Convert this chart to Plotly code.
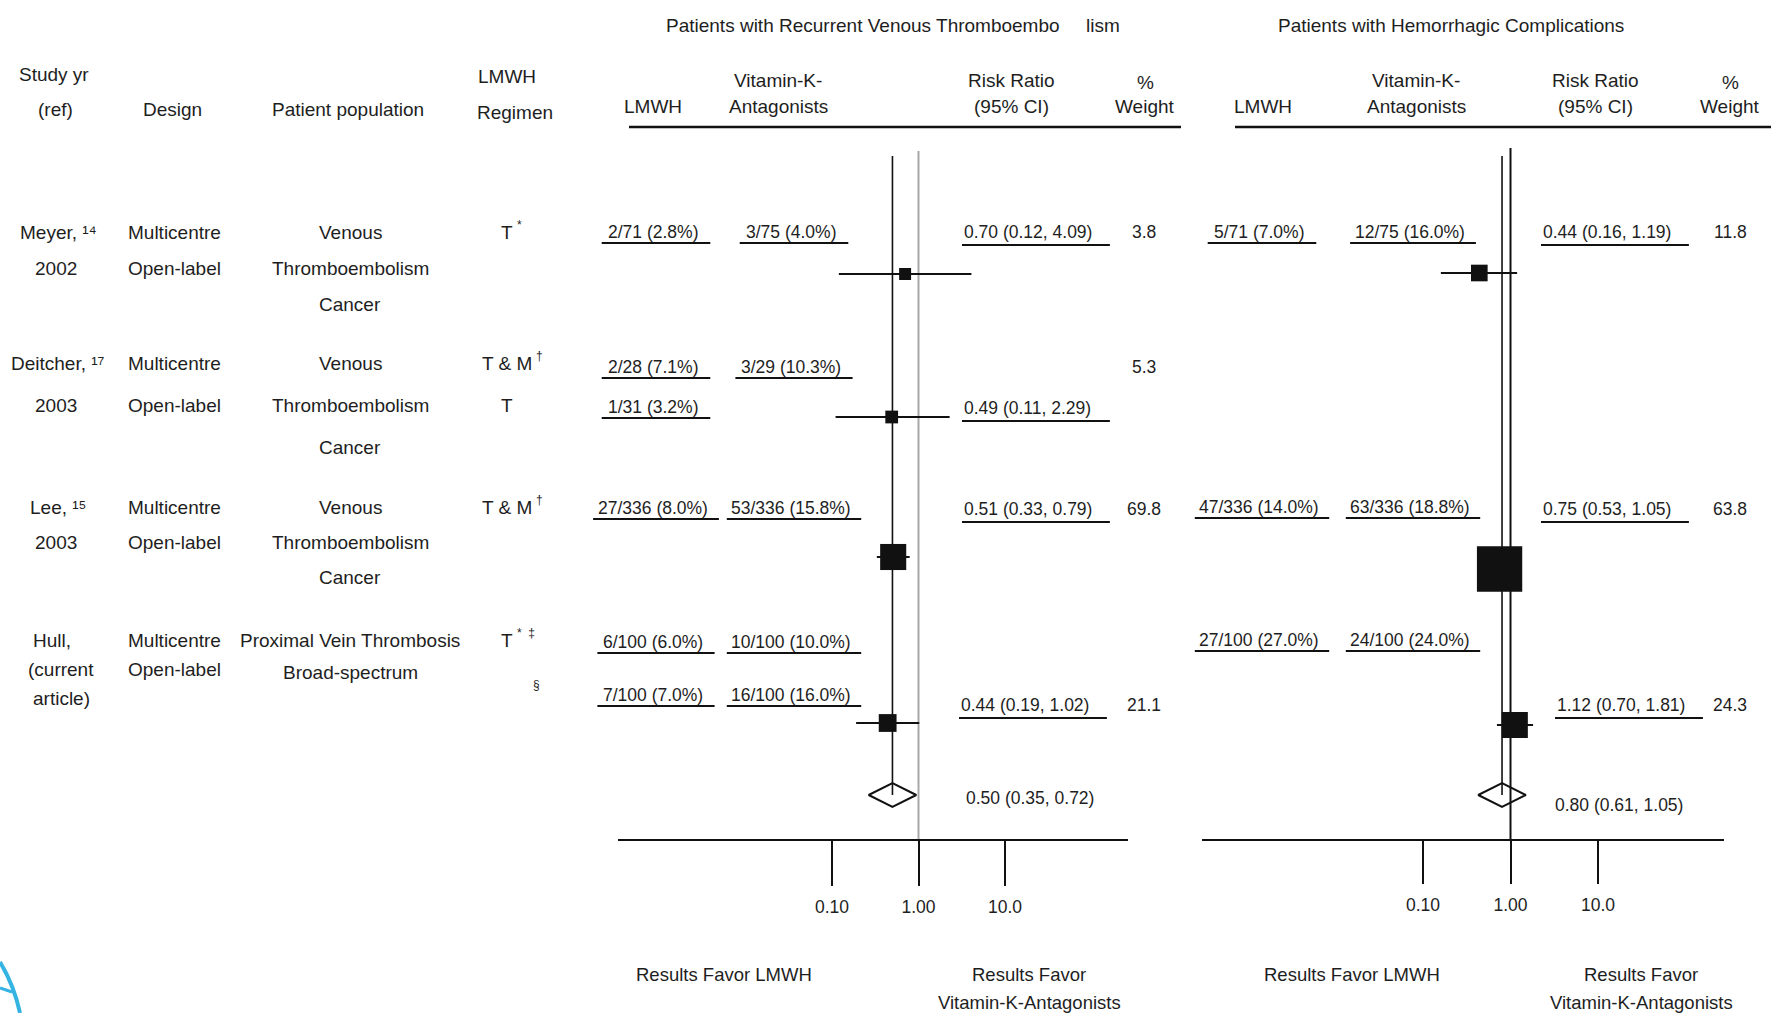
import plotly.graph_objects as go
import math

W, H = 1771, 1013
FONT = "Liberation Sans, Arial, sans-serif"
FS = 19      # words
FN = 17.5    # numbers
TC = "#1e1e1e"
LC = "#111111"

# ---------------- data ----------------
study_names = ["Meyer, ¹⁴", "Deitcher, ¹⁷", "Lee, ¹⁵", "Hull,"]
study_years = [["2002"], ["2003"], ["2003"], ["(current", "article)"]]
designs = [["Multicentre", "Open-label"]] * 4
populations = [["Venous", "Thromboembolism", "Cancer"],
               ["Venous", "Thromboembolism", "Cancer"],
               ["Venous", "Thromboembolism", "Cancer"],
               ["Proximal Vein Thrombosis", "Broad-spectrum"]]
# regimen text per line with footnote marks
regimens = [[("T", "*")], [("T & M", "†"), ("T", "")], [("T & M", "†")],
            [("T", "*  ‡"), ("", "§")]]

# Recurrent VTE
vte_lmwh = [["2/71 (2.8%)"], ["2/28 (7.1%)", "1/31 (3.2%)"], ["27/336 (8.0%)"], ["6/100 (6.0%)", "7/100 (7.0%)"]]
vte_vka = [["3/75 (4.0%)"], ["3/29 (10.3%)"], ["53/336 (15.8%)"], ["10/100 (10.0%)", "16/100 (16.0%)"]]
vte_rr = [0.70, 0.49, 0.51, 0.44]
vte_lo = [0.12, 0.11, 0.33, 0.19]
vte_hi = [4.09, 2.29, 0.79, 1.02]
vte_wt = [3.8, 5.3, 69.8, 21.1]
vte_pool = (0.50, 0.35, 0.72)

# Hemorrhagic complications (no Deitcher data)
hem_lmwh = [["5/71 (7.0%)"], [], ["47/336 (14.0%)"], ["27/100 (27.0%)"]]
hem_vka = [["12/75 (16.0%)"], [], ["63/336 (18.8%)"], ["24/100 (24.0%)"]]
hem_rr = [0.44, None, 0.75, 1.12]
hem_lo = [0.16, None, 0.53, 0.70]
hem_hi = [1.19, None, 1.05, 1.81]
hem_wt = [11.8, None, 63.8, 24.3]
hem_pool = (0.80, 0.61, 1.05)

tick_vals = [0.1, 1, 10]
tick_text = ["0.10", "1.00", "10.0"]

# ---------------- layout helpers (pixel positions) ----------------
def px(x):
    return x / W

def py(y):
    return 1 - y / H

ann = []
shp = []

def txt(x, y, s, anchor="center", size=FS):
    ann.append(dict(x=px(x), y=py(y), xref="paper", yref="paper", text=s, showarrow=False,
                    xanchor=anchor, yanchor="middle", font=dict(size=size, family=FONT, color=TC)))

def uline(x0, x1, y, w=2):
    shp.append(dict(type="line", xref="paper", yref="paper", x0=px(x0), x1=px(x1),
                    y0=py(y), y1=py(y), line=dict(color=LC, width=w)))

# row layout
row_top = [232, 363, 507, 640]
row_gap = [36, 42, 35, 29]

# ---------------- left descriptive table ----------------
txt(54, 75, "Study yr"); txt(55, 110, "(ref)")
txt(172, 110, "Design")
txt(348, 110, "Patient population")
txt(507, 77, "LMWH"); txt(515, 112, "Regimen")

for i in range(4):
    t, g = row_top[i], row_gap[i]
    txt(58 if i != 3 else 52, t, study_names[i])
    for k, s in enumerate(study_years[i]):
        txt(56 if i != 3 else 61, t + g * (k + 1), s)
    for k, s in enumerate(designs[i]):
        txt(174, t + g * k, s)
    for k, s in enumerate(populations[i]):
        txt(350, t + g * k + (3 if i == 3 and k else 0), s)
    for k, (main, mark) in enumerate(regimens[i]):
        yy = t + g * k + (23 if i == 3 and k else 0)
        if main:
            txt(507, yy, main)
        if mark:
            xm = 507 + 4.7 * len(main) + 3 if main else 531
            txt(xm, yy - 7, mark, anchor="left", size=12)

# ---------------- panel text ----------------
def panel_text(title, tx, hdr, cols, lmwh, vka, rr, lo, hi, wt, pool, cnt_y, rr_y, pool_xy,
               hdr_line, hull_shift):
    h_l, h_v, h_rr, h_w = hdr
    c_l, c_v, c_rr, c_w = cols
    txt(tx, 25, title)
    txt(h_l, 107, "LMWH")
    txt(h_v, 80, "Vitamin-K-"); txt(h_v, 107, "Antagonists")
    txt(h_rr, 80, "Risk Ratio"); txt(h_rr, 107, "(95% CI)")
    txt(h_w, 82, "%"); txt(h_w, 107, "Weight")
    uline(hdr_line[0], hdr_line[1], 127, 2.5)
    for i in range(4):
        for k, s in enumerate(lmwh[i]):
            y = cnt_y[i][k]
            txt(c_l, y, s, size=FN)
            w = 8.6 * len(s)
            uline(c_l - w / 2 - 4, c_l + w / 2 + 10, y + 11)
        for k, s in enumerate(vka[i]):
            y = cnt_y[i][k]
            txt(c_v, y, s, size=FN)
            w = 8.6 * len(s)
            uline(c_v - w / 2 - 4, c_v + w / 2 + 10, y + 11)
        if rr[i] is not None:
            s = f"{rr[i]:.2f} ({lo[i]:.2f}, {hi[i]:.2f})"
            x0 = c_rr + (hull_shift if i == 3 else 0)
            txt(x0, rr_y[i], s, anchor="left", size=FN)
            uline(x0, x0 + 8.7 * len(s), rr_y[i] + 13)
            wy = cnt_y[i][0] if i == 1 else rr_y[i]
            txt(c_w, wy, f"{wt[i]:.1f}", size=FN)
    txt(pool_xy[0], pool_xy[1], f"{pool[0]:.2f} ({pool[1]:.2f}, {pool[2]:.2f})", anchor="left", size=FN)

panel_text("Patients with Recurrent Venous Thromboembo&nbsp;&nbsp;&nbsp;&nbsp;&nbsp;lism", 893,
           (653, 778, 1011, 1145), (653, 791, 962, 1144),
           vte_lmwh, vte_vka, vte_rr, vte_lo, vte_hi, vte_wt, vte_pool,
           [[232], [367, 407], [508], [642, 695]], [232, 408, 509, 705], (964, 798), (629, 1181), -3)
panel_text("Patients with Hemorrhagic Complications", 1451,
           (1263, 1416, 1595, 1730), (1259, 1410, 1541, 1730),
           hem_lmwh, hem_vka, hem_rr, hem_lo, hem_hi, hem_wt, hem_pool,
           [[232], [], [507], [640]], [232, None, 509, 705], (1553, 805), (1235, 1771), 14)

# footers
for cx_l, cx_r in [(724, 1029), (1352, 1641)]:
    txt(cx_l, 974, "Results Favor LMWH", size=18.5)
    txt(cx_r, 974, "Results Favor", size=18.5)
    txt(cx_r, 1002, "Vitamin-K-Antagonists", size=18.5)

# decorative logo fragment (bottom-left corner)
shp.append(dict(type="path", xref="paper", yref="paper",
                path=f"M {px(0)},{py(962)} Q {px(14)},{py(985)} {px(20)},{py(1013)}",
                line=dict(color="#35b3e3", width=4)))
shp.append(dict(type="path", xref="paper", yref="paper",
                path=f"M {px(0)},{py(988)} L {px(12)},{py(992)}",
                line=dict(color="#35b3e3", width=3)))

# ---------------- forest plots ----------------
sq_y_vte = [274, 417, 557, 723]
sq_y_hem = [273, None, 569, 725]
pool_y = 795

fig = go.Figure()

def forest(xa, ya, rr, lo, hi, wt, sq_y, pool, size_k, size_b, ref_color, ref_top, pool_top):
    xs, ys, mx, my, ms = [], [], [], [], []
    for i in range(len(rr)):
        if rr[i] is None:
            continue
        xs += [lo[i], hi[i], None]
        ys += [sq_y[i], sq_y[i], None]
        mx.append(rr[i]); my.append(sq_y[i]); ms.append(size_b + size_k * math.sqrt(wt[i]))
    common = dict(xaxis=xa, yaxis=ya, showlegend=False, hoverinfo="skip")
    # line of no effect
    fig.add_trace(go.Scatter(x=[1, 1], y=[ref_top, 839], mode="lines",
                             line=dict(color=ref_color, width=2), **common))
    # pooled estimate line
    fig.add_trace(go.Scatter(x=[pool[0], pool[0]], y=[pool_top, pool_y], mode="lines",
                             line=dict(color=LC, width=1.6), **common))
    fig.add_trace(go.Scatter(x=xs, y=ys, mode="lines", line=dict(color=LC, width=2), **common))
    fig.add_trace(go.Scatter(x=mx, y=my, mode="markers",
                             marker=dict(symbol="square", size=ms, color="#111111", opacity=1,
                                         line=dict(width=0)),
                             **common))
    fig.add_trace(go.Scatter(x=[pool[0]], y=[pool_y], mode="markers",
                             marker=dict(symbol="diamond-wide-open", size=34, color=LC, opacity=1,
                                         line=dict(width=2)),
                             **common))

forest("x", "y", vte_rr, vte_lo, vte_hi, vte_wt, sq_y_vte, vte_pool, 2.2, 7.7, "#a8a8a8", 151, 156)
forest("x2", "y2", hem_rr, hem_lo, hem_hi, hem_wt, sq_y_hem, hem_pool, 6.3, -5, LC, 148, 156)

ydom = [py(839), py(130)]
xcommon = dict(type="log", showline=True, linecolor=LC, linewidth=2, ticks="outside",
               tickcolor=LC, tickwidth=1.5, tickvals=tick_vals, ticktext=tick_text,
               showgrid=False, zeroline=False, fixedrange=True, ticklabelstandoff=6,
               tickfont=dict(size=FN, family=FONT, color=TC))
ycommon = dict(range=[839, 130], domain=ydom, visible=False, fixedrange=True)

fig.update_layout(
    width=W, height=H, margin=dict(l=0, r=0, t=0, b=0),
    paper_bgcolor="white", plot_bgcolor="rgba(0,0,0,0)",
    xaxis=dict(domain=[px(618), px(1128)], range=[-3.474, 2.422], ticklen=45, anchor="y", **xcommon),
    yaxis=dict(anchor="x", **ycommon),
    xaxis2=dict(domain=[px(1202), px(1724)], range=[-3.526, 2.44], ticklen=43, anchor="y2", **xcommon),
    yaxis2=dict(anchor="x2", **ycommon),
    annotations=ann, shapes=shp,
    font=dict(family=FONT, size=FS, color=TC),
)

fig.write_html("out.html", config={"displayModeBar": False},
               post_script="document.body.style.margin='0px';document.body.style.overflow='hidden';")
